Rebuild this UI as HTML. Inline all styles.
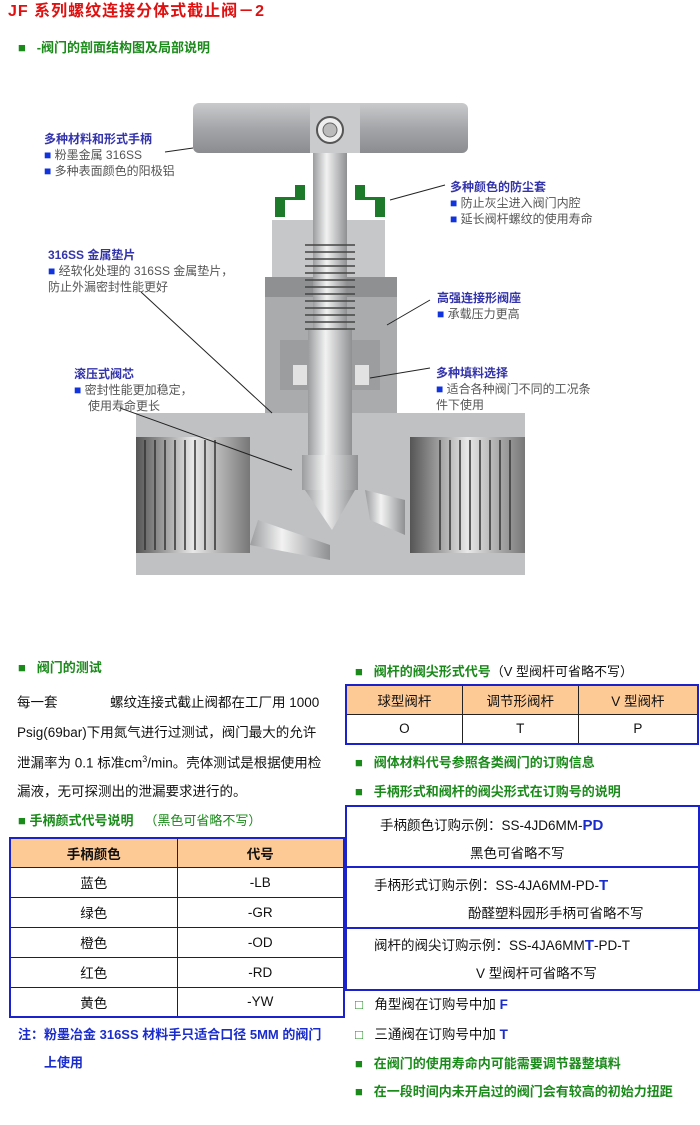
<!DOCTYPE html>
<html><head><meta charset="utf-8">
<style>
body{margin:0;width:700px;height:1125px;background:#fff;position:relative;overflow:hidden;font-family:"Liberation Sans","Noto Sans CJK SC",sans-serif;}
.a{position:absolute;white-space:nowrap;line-height:1;}
.g{color:#1a8a1a;font-weight:bold;font-size:13px;}
.lb{color:#3333aa;font-weight:bold;font-size:12px;}
.lt{color:#555;font-size:12px;}
.sq{color:#1133dd;}
.p{color:#111;font-size:13.5px;}
table{position:absolute;border-collapse:collapse;font-size:13.5px;color:#111;}
td{border:1px solid #222;text-align:center;padding:0;vertical-align:middle;}
.b{color:#1a2ccc;font-weight:bold;}
</style></head><body>
<div class="a" style="left:8px;top:4px;color:#e01010;font-weight:bold;font-size:16px;letter-spacing:1px">JF 系列螺纹连接分体式截止阀－2</div>
<div class="a g" style="left:18px;top:41px">■&nbsp;&nbsp;&nbsp;-阀门的剖面结构图及局部说明</div>

<svg style="position:absolute;left:0;top:0" width="700" height="620">
<defs>
<linearGradient id="h" x1="0" y1="0" x2="0" y2="1"><stop offset="0" stop-color="#c8cacc"/><stop offset="0.5" stop-color="#a4a6a9"/><stop offset="1" stop-color="#8a8c8f"/></linearGradient>
<linearGradient id="s" x1="0" y1="0" x2="1" y2="0"><stop offset="0" stop-color="#9a9c9e"/><stop offset="0.4" stop-color="#f2f2f2"/><stop offset="1" stop-color="#8e9092"/></linearGradient>
<linearGradient id="pt" x1="0" y1="0" x2="1" y2="0"><stop offset="0" stop-color="#555"/><stop offset="0.5" stop-color="#e8e8e8"/><stop offset="1" stop-color="#777"/></linearGradient>
</defs>
<rect x="136" y="413" width="389" height="162" fill="#bfc1c3"/>
<rect x="136" y="437" width="114" height="116" fill="url(#pt)"/>
<rect x="410" y="437" width="115" height="116" fill="url(#pt)"/>
<g stroke="#333" stroke-width="1.5">
<line x1="145" y1="440" x2="145" y2="550"/><line x1="155" y1="440" x2="155" y2="550"/><line x1="165" y1="440" x2="165" y2="550"/><line x1="175" y1="440" x2="175" y2="550"/><line x1="185" y1="440" x2="185" y2="550"/><line x1="195" y1="440" x2="195" y2="550"/><line x1="205" y1="440" x2="205" y2="550"/><line x1="215" y1="440" x2="215" y2="550"/>
<line x1="440" y1="440" x2="440" y2="550"/><line x1="450" y1="440" x2="450" y2="550"/><line x1="460" y1="440" x2="460" y2="550"/><line x1="470" y1="440" x2="470" y2="550"/><line x1="480" y1="440" x2="480" y2="550"/><line x1="490" y1="440" x2="490" y2="550"/><line x1="500" y1="440" x2="500" y2="550"/><line x1="510" y1="440" x2="510" y2="550"/>
</g>
<polygon points="258,520 330,545 330,560 250,545" fill="url(#s)"/>
<polygon points="365,490 405,500 405,535 370,520" fill="url(#s)"/>
<rect x="265" y="277" width="132" height="136" fill="#a9abad"/>
<rect x="265" y="277" width="132" height="20" fill="#8e9092"/>
<rect x="272" y="220" width="113" height="57" fill="#c5c7c9"/>
<rect x="280" y="340" width="100" height="50" fill="#9b9d9f"/>
<rect x="293" y="365" width="14" height="20" fill="#e2e2e2"/><rect x="355" y="365" width="14" height="20" fill="#e2e2e2"/>
<path d="M275,217 L275,197 L295,197 L295,185 L305,185 L305,200 L285,200 L285,217Z" fill="#1d7a2a"/>
<path d="M385,217 L385,197 L365,197 L365,185 L355,185 L355,200 L375,200 L375,217Z" fill="#1d7a2a"/>
<rect x="313" y="150" width="34" height="190" fill="url(#s)"/>
<g stroke="#444" stroke-width="1.5"><line x1="305" y1="245" x2="355" y2="245"/><line x1="305" y1="252" x2="355" y2="252"/><line x1="305" y1="259" x2="355" y2="259"/><line x1="305" y1="266" x2="355" y2="266"/><line x1="305" y1="273" x2="355" y2="273"/><line x1="305" y1="280" x2="355" y2="280"/><line x1="305" y1="287" x2="355" y2="287"/><line x1="305" y1="294" x2="355" y2="294"/><line x1="305" y1="301" x2="355" y2="301"/><line x1="305" y1="308" x2="355" y2="308"/><line x1="305" y1="315" x2="355" y2="315"/><line x1="305" y1="322" x2="355" y2="322"/><line x1="305" y1="329" x2="355" y2="329"/></g>
<rect x="308" y="330" width="44" height="130" fill="url(#s)"/>
<rect x="302" y="455" width="56" height="35" fill="url(#s)"/>
<polygon points="305,490 355,490 332,530" fill="url(#s)"/>
<rect x="193" y="103" width="275" height="50" rx="6" fill="url(#h)"/>
<rect x="310" y="103" width="50" height="50" fill="#c9cbcd"/>
<circle cx="330" cy="130" r="13" fill="#eee" stroke="#555" stroke-width="2"/><circle cx="330" cy="130" r="7" fill="#bbb" stroke="#666"/>
<g stroke="#222" stroke-width="1"><line x1="165" y1="152" x2="193" y2="148"/><line x1="141" y1="292" x2="272" y2="413"/><line x1="120" y1="408" x2="292" y2="470"/><line x1="445" y1="185" x2="390" y2="200"/><line x1="430" y1="300" x2="387" y2="325"/><line x1="430" y1="368" x2="370" y2="378"/></g>
</svg>

<div class="a lb" style="left:44px;top:133px">多种材料和形式手柄</div>
<div class="a lt" style="left:44px;top:149px"><span class="sq">■</span> 粉墨金属 316SS</div>
<div class="a lt" style="left:44px;top:165px"><span class="sq">■</span> 多种表面颜色的阳极铝</div>
<div class="a lb" style="left:48px;top:249px">316SS 金属垫片</div>
<div class="a lt" style="left:48px;top:265px"><span class="sq">■</span> 经软化处理的 316SS 金属垫片，</div>
<div class="a lt" style="left:48px;top:281px">防止外漏密封性能更好</div>
<div class="a lb" style="left:74px;top:368px">滚压式阀芯</div>
<div class="a lt" style="left:74px;top:384px"><span class="sq">■</span> 密封性能更加稳定，</div>
<div class="a lt" style="left:88px;top:400px">使用寿命更长</div>
<div class="a lb" style="left:450px;top:181px">多种颜色的防尘套</div>
<div class="a lt" style="left:450px;top:197px"><span class="sq">■</span> 防止灰尘进入阀门内腔</div>
<div class="a lt" style="left:450px;top:213px"><span class="sq">■</span> 延长阀杆螺纹的使用寿命</div>
<div class="a lb" style="left:437px;top:292px">高强连接形阀座</div>
<div class="a lt" style="left:437px;top:308px"><span class="sq">■</span> 承载压力更高</div>
<div class="a lb" style="left:436px;top:367px">多种填料选择</div>
<div class="a lt" style="left:436px;top:383px"><span class="sq">■</span> 适合各种阀门不同的工况条</div>
<div class="a lt" style="left:436px;top:399px">件下使用</div>

<div class="a g" style="left:18px;top:661px">■&nbsp;&nbsp;&nbsp;阀门的测试</div>
<div class="a p" style="left:17px;top:696px">每一套&nbsp;&nbsp;&nbsp;&nbsp;&nbsp;&nbsp;&nbsp;&nbsp;&nbsp;&nbsp;&nbsp;&nbsp;&nbsp;&nbsp;螺纹连接式截止阀都在工厂用 1000</div>
<div class="a p" style="left:17px;top:726px">Psig(69bar)下用氮气进行过测试，阀门最大的允许</div>
<div class="a p" style="left:17px;top:755px">泄漏率为 0.1 标准cm<sup style="font-size:9px">3</sup>/min。壳体测试是根据使用检</div>
<div class="a p" style="left:17px;top:785px">漏液，无可探测出的泄漏要求进行的。</div>
<div class="a g" style="left:18px;top:814px">■&nbsp;手柄颜式代号说明&nbsp;&nbsp;&nbsp;<span style="font-weight:normal">（黑色可省略不写）</span></div>

<table style="left:9px;top:837px;width:336px;border:2px solid #1a22cc">
<tr style="height:29px;background:#fdc994;font-weight:bold"><td style="width:50%">手柄颜色</td><td>代号</td></tr>
<tr style="height:30px"><td>蓝色</td><td>-LB</td></tr>
<tr style="height:30px"><td>绿色</td><td>-GR</td></tr>
<tr style="height:30px"><td>橙色</td><td>-OD</td></tr>
<tr style="height:30px"><td>红色</td><td>-RD</td></tr>
<tr style="height:30px"><td>黄色</td><td>-YW</td></tr>
</table>
<div class="a b" style="left:18px;top:1028px;font-size:13px">注：粉墨冶金 316SS 材料手只适合口径 5MM 的阀门</div>
<div class="a b" style="left:44px;top:1056px;font-size:13px">上使用</div>

<div class="a g" style="left:355px;top:665px">■&nbsp;&nbsp;&nbsp;阀杆的阀尖形式代号<span style="font-weight:normal;color:#111">（V 型阀杆可省略不写）</span></div>
<table style="left:345px;top:684px;width:354px;border:2px solid #1a22cc">
<tr style="height:29px;background:#fdc994"><td style="width:33%">球型阀杆</td><td style="width:33%">调节形阀杆</td><td>V 型阀杆</td></tr>
<tr style="height:30px"><td>O</td><td>T</td><td>P</td></tr>
</table>
<div class="a g" style="left:355px;top:756px">■&nbsp;&nbsp;&nbsp;阀体材料代号参照各类阀门的订购信息</div>
<div class="a g" style="left:355px;top:785px">■&nbsp;&nbsp;&nbsp;手柄形式和阀杆的阀尖形式在订购号的说明</div>
<div style="position:absolute;left:345px;top:805px;width:351px;height:182px;border:2px solid #1a22cc"></div>
<div style="position:absolute;left:345px;top:866px;width:355px;height:2px;background:#1a22cc"></div>
<div style="position:absolute;left:345px;top:927px;width:355px;height:2px;background:#1a22cc"></div>
<div class="a p" style="left:380px;top:818px">手柄颜色订购示例：SS-4JD6MM-<span class="b" style="font-size:15px">PD</span></div>
<div class="a p" style="left:470px;top:847px">黑色可省略不写</div>
<div class="a p" style="left:374px;top:878px">手柄形式订购示例：SS-4JA6MM-PD-<span class="b" style="font-size:15px">T</span></div>
<div class="a p" style="left:468px;top:907px">酚醛塑料园形手柄可省略不写</div>
<div class="a p" style="left:374px;top:938px">阀杆的阀尖订购示例：SS-4JA6MM<span class="b" style="font-size:15px">T</span>-PD-T</div>
<div class="a p" style="left:476px;top:967px">V 型阀杆可省略不写</div>
<div class="a" style="left:355px;top:998px;font-size:13.5px;color:#111"><span style="color:#1a8a1a">□</span>&nbsp;&nbsp;&nbsp;角型阀在订购号中加 <span class="b">F</span></div>
<div class="a" style="left:355px;top:1028px;font-size:13.5px;color:#111"><span style="color:#1a8a1a">□</span>&nbsp;&nbsp;&nbsp;三通阀在订购号中加 <span class="b">T</span></div>
<div class="a g" style="left:355px;top:1057px">■&nbsp;&nbsp;&nbsp;在阀门的使用寿命内可能需要调节器整填料</div>
<div class="a g" style="left:355px;top:1085px">■&nbsp;&nbsp;&nbsp;在一段时间内未开启过的阀门会有较高的初始力扭距</div>
</body></html>
